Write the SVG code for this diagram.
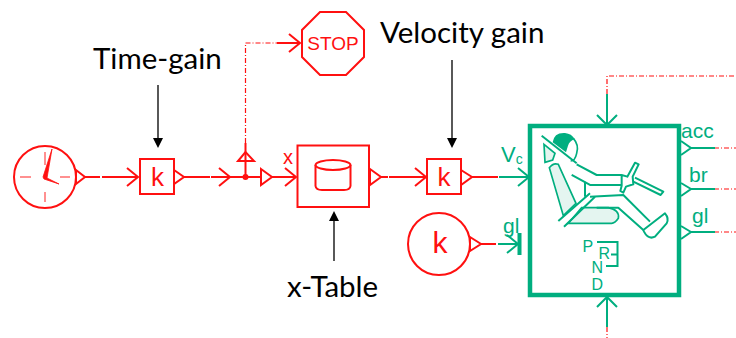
<svg xmlns="http://www.w3.org/2000/svg" width="736" height="338" viewBox="0 0 736 338">
<style>
.r{fill:none;stroke:#ff1010;stroke-width:2}
.rt{fill:#ff1010;font-family:"Liberation Sans",sans-serif}
.g{fill:none;stroke:#00ae7f;stroke-width:2}
.gt{fill:#00ae7f;font-family:"Liberation Sans",sans-serif}
.d{fill:none;stroke:#ff1010;stroke-width:1.2;stroke-dasharray:5 2 1 2}
.k{fill:none;stroke:#000;stroke-width:1.3}
.lb{fill:#000;font-family:Lato,sans-serif;font-size:29.500px}
</style>
<g id="connectors">
<path class="r" d="M85 177H100M102 177H138M184 177H210M211 177H261M272 177H295M245.500 177V143M381 177H388M389 177H426M472 177H498M481 244H496M277 43H300"/>
<path class="r" d="M219 168 230 177 219 186M127 168 138 177 127 186M285 168 296 177 285 186M415 168 426 177 415 186M289 34 300 43 289 52"/>
<path class="d" d="M245.500 143V43H277M607 94V76H736M714 148H736M714 189H736M714 232H736M607 327V338"/>
<circle cx="245.500" cy="177" r="3" fill="#ff1010"/>
<path class="g" d="M499 177H530M607 94V125M607 297V327M691 148H715M691 189H715M691 232H715M498 244H518"/>
<path class="g" d="M518 168 529 177 518 186M597 115 607 125 617 115M597 307 607 297 617 307M507 235 518 244 507 253"/>
<path d="M158 85V140M452 60V140M334 220V261" class="k"/>
<path d="M153 138H163L158 148ZM447 138H457L452 148ZM329 221H339L334 211Z" fill="#000"/>
</g>
<g id="clock">
<circle class="r" cx="45" cy="177" r="31"/>
<path d="M43 177 52 149 47 178 59 184 44 179Z" fill="#ff1010" stroke="#ff1010" stroke-width=".8"/>
<path d="M45 152V165M45 192V202M20 177H31M60 177H70" fill="none" stroke="#ff9090" stroke-width="2"/>
<path class="r" d="M76 170 85 177 76 184Z"/>
</g>
<g id="time-gain-block">
<rect class="r" x="140" y="159" width="34" height="35"/>
<text class="rt" x="157.500" y="186" font-size="26" text-anchor="middle">k</text>
<path class="r" d="M174 170 184 177 174 184Z"/>
</g>
<g id="time-gain-label"><text class="lb" x="93" y="69">Time-gain</text></g>
<g id="branch">
<path class="r" d="M238 161H254L245.500 152ZM261 169 272 177 261 185Z"/>
<text class="rt" x="283" y="164" font-size="20">x</text>
</g>
<g id="stop">
<path class="r" d="M320 12H346L364 30V57L346 75H320L302 57V30Z"/>
<text class="rt" x="333" y="50" font-size="19" text-anchor="middle">STOP</text>
</g>
<g id="velocity-label"><text class="lb" x="380" y="43">Velocity gain</text></g>
<g id="x-table">
<rect class="r" x="297.500" y="145.500" width="71.500" height="61.500" stroke-width="2.500"/>
<ellipse class="r" cx="333" cy="165" rx="17.500" ry="5"/>
<path class="r" d="M315.500 165V186Q316 190 322 190H344Q350 190 350.500 186V165"/>
<path class="r" d="M370 169 381 177 370 185Z"/>
</g>
<g id="x-table-label"><text class="lb" x="287" y="297">x-Table</text></g>
<g id="velocity-gain-block">
<rect class="r" x="427" y="159" width="34" height="35"/>
<text class="rt" x="444" y="186" font-size="26" text-anchor="middle">k</text>
<path class="r" d="M461 170 472 177 461 185Z"/>
</g>
<g id="k-source">
<circle class="r" cx="439" cy="244" r="31"/>
<text class="rt" x="440" y="253" font-size="30" text-anchor="middle">k</text>
<path class="r" d="M470 237 481 244 470 251Z"/>
</g>
<g id="vehicle">
<rect x="530" y="126" width="149" height="169" fill="none" stroke="#00ae7f" stroke-width="4.500"/>
<rect x="517.500" y="233" width="4" height="22" fill="#00ae7f"/>
<text class="gt" x="501" y="162" font-size="22">V<tspan font-size="14" dy="2">c</tspan></text>
<text class="gt" x="503" y="233" font-size="21">gl</text>
<text class="gt" x="681" y="138" font-size="21">acc</text>
<text class="gt" x="689" y="182" font-size="21">br</text>
<text class="gt" x="692" y="223" font-size="21">gl</text>
<path class="g" d="M681 141 691 148 681 155M681 183 691 189 681 196M681 226 691 232 681 239"/>
<g transform="translate(540 125) scale(.3333)">
<path d="M38 52Q42 22 75 24Q95 26 104 42Q88 48 84 62L78 82Z" fill="#00ae7f"/>
<path d="M100 40Q118 60 110 85Q105 108 92 108" fill="none" stroke="#00ae7f" stroke-width="5"/>
<path d="M12 58 45 85 38 105 15 112Z" fill="#e4f5f0" stroke="#00ae7f" stroke-width="5"/>
<path d="M28 128Q40 112 55 118L108 235 70 272Z" fill="#e4f5f0" stroke="#00ae7f" stroke-width="5"/>
<path d="M125 248H205Q240 255 235 280Q225 295 215 295H85Z" fill="#e4f5f0" stroke="#00ae7f" stroke-width="5"/>
<g fill="none" stroke="#00ae7f" stroke-width="6" stroke-linejoin="round">
<path d="M5 32 110 115"/>
<path d="M55 288 150 205M72 305 165 215"/>
<path d="M110 118 170 150H245M95 150 150 180H245"/>
<path d="M135 170V215M150 215 250 210 330 290M170 248H235L310 315"/>
<path d="M245 150 262 155 285 113 296 118 278 155 280 178 258 185 250 203 241 198 245 182Z"/>
<path d="M285 158 370 200 362 210 280 170"/>
<path d="M310 315 375 265Q388 280 380 295L345 335Q325 345 312 320Z"/>
</g>
</g>
<g class="g"><path d="M597 242H617.500V266H606M611 254.500H617.500"/></g>
<g class="gt" font-size="16">
<text x="582.500" y="252">P</text><text x="598.500" y="259">R</text><text x="591.500" y="272.500">N</text><text x="591.500" y="290">D</text>
</g>
</g>
</svg>
